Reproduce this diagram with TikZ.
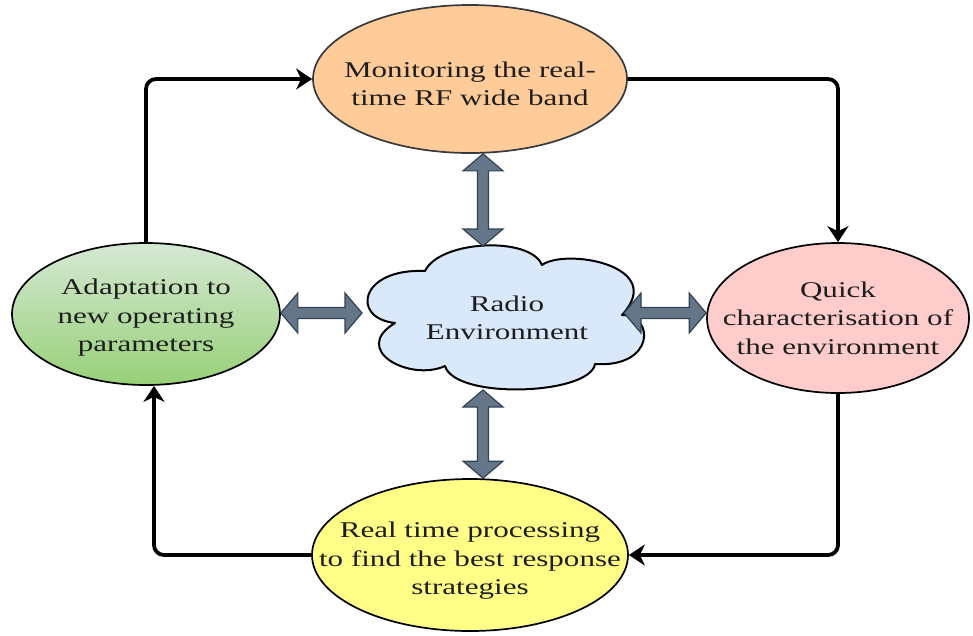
\documentclass[tikz,border=0pt]{standalone}
\usepackage{fontspec}
\setmainfont{Liberation Serif}[FakeStretch=1.38]
\usetikzlibrary{shapes.geometric,arrows.meta,calc}

\definecolor{inkcol}{HTML}{1E1E1E}
\definecolor{orangefill}{HTML}{FFCC99}
\definecolor{orangeedge}{HTML}{36393D}
\definecolor{pinkfill}{HTML}{FFCCCC}
\definecolor{yellowfill}{HTML}{FFFF88}
\definecolor{greentop}{HTML}{D5E8D4}
\definecolor{greenbot}{HTML}{97D077}
\definecolor{cloudfill}{HTML}{DAE8FC}
\definecolor{slatefill}{HTML}{647687}
\definecolor{slateedge}{HTML}{314354}

% taller first line: pushes a text block a little down in its node
\newcommand\lowerby[1]{\rule{0pt}{#1}}

% thick two-headed block arrow between two points
\newcommand\fatarrow[2]{%
  \coordinate (fatA) at (#1);
  \coordinate (fatB) at (#2);
  \draw[fatarrow] (fatA)
    -- ($(fatA)!17pt!(fatB)!20pt!90:(fatB)$)
    -- ($(fatA)!17pt!(fatB)!5.5pt!90:(fatB)$)
    -- ($(fatB)!17pt!(fatA)!5.5pt!-90:(fatA)$)
    -- ($(fatB)!17pt!(fatA)!20pt!-90:(fatA)$)
    -- (fatB)
    -- ($(fatB)!17pt!(fatA)!20pt!90:(fatA)$)
    -- ($(fatB)!17pt!(fatA)!5.5pt!90:(fatA)$)
    -- ($(fatA)!17pt!(fatB)!5.5pt!-90:(fatB)$)
    -- ($(fatA)!17pt!(fatB)!20pt!-90:(fatB)$)
    -- cycle;}

\begin{document}
\begin{tikzpicture}[x=1pt,y=1pt,
  every node/.style={font=\fontsize{22.5}{28.5}\selectfont, text=inkcol, align=center},
  stage/.style={ellipse, draw=black, line width=1.7pt, inner sep=-100pt},
  flow/.style={draw=black, line width=3.8pt, rounded corners=10pt,
    -{Stealth[length=16pt,width=21pt,inset=5pt]}},
  fatarrow/.style={fill=slatefill, draw=slateedge, line width=1.2pt, line join=miter}]
\useasboundingbox (0,0) rectangle (973,-635);

% the four stages of the cycle
\node[stage, fill=orangefill, draw=orangeedge, minimum width=314pt, minimum height=148pt]
  (top) at (470,-79) {\lowerby{25.5pt}Monitoring the real-\\time RF wide band};
\node[stage, fill=pinkfill, minimum width=262pt, minimum height=150pt]
  (pink) at (838,-318) {Quick\\characterisation of\\the environment};
\node[stage, fill=yellowfill, minimum width=316pt, minimum height=152pt]
  (yellow) at (470,-555) {\lowerby{27.5pt}Real time processing\\to find the best response\\strategies};
\node[stage, top color=greentop, bottom color=greenbot, minimum width=268pt, minimum height=142pt]
  (green) at (146,-314) {\lowerby{23.5pt}Adaptation to\\new operating\\parameters};

% environment cloud in the middle
\draw[fill=cloudfill, line width=2pt, line join=round]
  (425,-271)
  .. controls (440,-240) and (530,-236) .. (542,-265)
  .. controls (565,-248) and (668,-265) .. (622,-315)
  .. controls (655,-315) and (655,-368) .. (595,-364)
  .. controls (590,-395) and (455,-400) .. (445,-366)
  .. controls (410,-382) and (350,-350) .. (395,-323)
  .. controls (350,-318) and (360,-268) .. (425,-271)
  -- cycle;
\node (cloud) at (507,-318) {Radio\\Environment};
\coordinate (cloudN) at (483,-246);
\coordinate (cloudS) at (483,-390);
\coordinate (cloudW) at (362,-313);
\coordinate (cloudE) at (624,-313);

% cycle connectors
\draw[flow] (green.north) |- (top.west);
\draw[flow] (top.east) -| (pink.north);
\draw[flow] (pink.south) |- (yellow.east);
\draw[flow] (yellow.west) -| ([xshift=8pt]green.south);

% exchanges with the environment
\fatarrow{[xshift=13pt]top.south}{cloudN}
\fatarrow{cloudS}{[xshift=13pt]yellow.north}
\fatarrow{green.east |- cloudW}{cloudW}
\fatarrow{cloudE}{pink.west |- cloudE}
\end{tikzpicture}
\end{document}
